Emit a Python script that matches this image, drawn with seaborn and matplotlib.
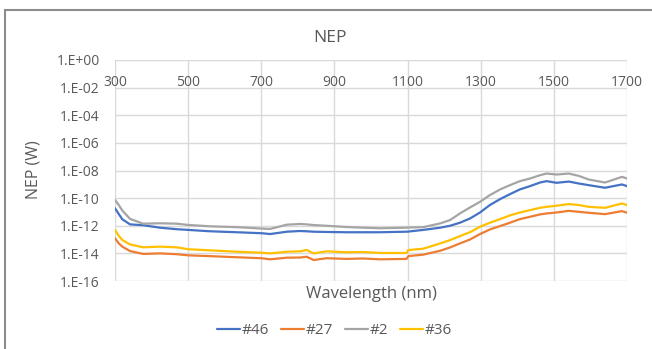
import numpy as np
import pandas as pd
import matplotlib
matplotlib.use("Agg")
import matplotlib.pyplot as plt
import seaborn as sns
from matplotlib.ticker import FixedLocator, FuncFormatter
from matplotlib.patches import Rectangle

# wavelength (nm) and log10(NEP / W)
wavelength = [300, 310, 320, 341, 377, 423, 469, 500, 560, 633, 701, 724, 770, 806,
              824, 843, 879, 933, 979, 1024, 1097, 1102, 1143, 1189, 1216, 1243, 1271,
              1298, 1325, 1353, 1380, 1407, 1435, 1462, 1480, 1507, 1541, 1568, 1595,
              1640, 1686, 1700]
log_46 = [-10.73, -11.14, -11.53, -11.9, -11.96, -12.14, -12.25, -12.3, -12.4, -12.47,
          -12.54, -12.6, -12.43, -12.38, -12.4, -12.43, -12.45, -12.47, -12.47, -12.47,
          -12.43, -12.42, -12.3, -12.14, -12.0, -11.78, -11.47, -11.04, -10.5, -10.07,
          -9.71, -9.37, -9.13, -8.87, -8.77, -8.89, -8.8, -8.94, -9.06, -9.25, -9.01, -9.13]
log_27 = [-12.9, -13.27, -13.51, -13.83, -14.04, -14.0, -14.06, -14.14, -14.2, -14.28,
          -14.35, -14.43, -14.31, -14.3, -14.24, -14.48, -14.35, -14.4, -14.37, -14.43,
          -14.4, -14.2, -14.09, -13.81, -13.57, -13.28, -12.99, -12.6, -12.27, -12.02,
          -11.78, -11.52, -11.35, -11.18, -11.11, -11.04, -10.92, -10.99, -11.06, -11.16,
          -10.94, -11.06]
log_2 = [-10.13, -10.49, -10.9, -11.5, -11.85, -11.82, -11.85, -11.94, -12.04, -12.1,
         -12.2, -12.23, -11.92, -11.87, -11.9, -11.95, -12.0, -12.09, -12.14, -12.18,
         -12.14, -12.13, -12.1, -11.83, -11.59, -11.11, -10.67, -10.27, -9.78, -9.37,
         -9.06, -8.77, -8.58, -8.34, -8.22, -8.29, -8.22, -8.39, -8.65, -8.87, -8.46, -8.58]
log_36 = [-12.3, -12.72, -13.03, -13.35, -13.56, -13.51, -13.56, -13.7, -13.78, -13.88,
          -13.95, -14.0, -13.88, -13.85, -13.75, -14.0, -13.85, -13.92, -13.9, -13.97,
          -13.97, -13.76, -13.66, -13.28, -13.04, -12.75, -12.46, -12.07, -11.78, -11.52,
          -11.25, -11.04, -10.87, -10.7, -10.63, -10.55, -10.43, -10.5, -10.63, -10.7,
          -10.39, -10.5]

series_names = ["#46", "#27", "#2", "#36"]
colors = ["#4472C4", "#ED7D31", "#A5A5A5", "#FFC000"]
x_ticks = [300, 500, 700, 900, 1100, 1300, 1500, 1700]
y_ticks = [1e0, 1e-2, 1e-4, 1e-6, 1e-8, 1e-10, 1e-12, 1e-14, 1e-16]

TEXT = "#595959"

sns.set_theme(style="whitegrid")
plt.rcParams["font.family"] = ["Open Sans", "DejaVu Sans"]
plt.rcParams["grid.color"] = "#D9D9D9"
plt.rcParams["grid.linewidth"] = 1.0

df = pd.DataFrame({
    "Wavelength": wavelength * 4,
    "NEP": np.power(10.0, np.array(log_46 + log_27 + log_2 + log_36)),
    "Sample": sum([[n] * len(wavelength) for n in series_names], []),
})

fig = plt.figure(figsize=(6.52, 3.49), dpi=100)
ax = fig.add_axes([0.1764, 0.1948, 0.7853, 0.6333])

sns.lineplot(data=df, x="Wavelength", y="NEP", hue="Sample", hue_order=series_names,
             palette=colors, linewidth=1.6, ax=ax, legend=True)

ax.set_yscale("log")
ax.set_xlim(300, 1700)
ax.set_ylim(1e-16, 1e0)
ax.xaxis.set_major_locator(FixedLocator(x_ticks))
ax.yaxis.set_major_locator(FixedLocator(y_ticks))
ax.yaxis.set_minor_locator(FixedLocator([]))
ax.yaxis.set_major_formatter(FuncFormatter(
    lambda v, p: f"1.E{int(round(np.log10(v))):+03d}"))

# Excel-style: horizontal axis crosses at 1.E+00, so labels sit under the top edge
ax.spines["bottom"].set_position(("data", 1.0))
for s in ax.spines.values():
    s.set_visible(False)
ax.tick_params(axis="x", length=0, pad=11, labelsize=10, labelcolor=TEXT)
ax.tick_params(axis="y", length=0, pad=11, labelsize=10, labelcolor=TEXT)
ax.grid(True, color="#D9D9D9", linewidth=1.0)
ax.set_xlabel("")
ax.set_ylabel("")

fig.text(0.506, 0.891, "NEP", ha="center", va="center", fontsize=12.5, color=TEXT)
fig.text(0.570, 0.157, "Wavelength (nm)", ha="center", va="center", fontsize=12, color=TEXT)
fig.text(0.052, 0.513, "NEP (W)", ha="center", va="center", rotation=90,
         fontsize=11.5, color=TEXT)

handles, labels = ax.get_legend_handles_labels()
ax.legend(handles, labels, loc="center", bbox_to_anchor=(0.513, 0.052),
          bbox_transform=fig.transFigure, ncol=4, frameon=False, fontsize=11,
          handlelength=1.5, handletextpad=0.1, columnspacing=0.8, labelcolor=TEXT)

fig.patches.append(Rectangle((5 / 652, -0.2), 1.5, 1.2 - 10 / 349,
                             transform=fig.transFigure, fill=False,
                             edgecolor="#8C8C8C", linewidth=1.5))

fig.savefig("out.png", dpi=100)
